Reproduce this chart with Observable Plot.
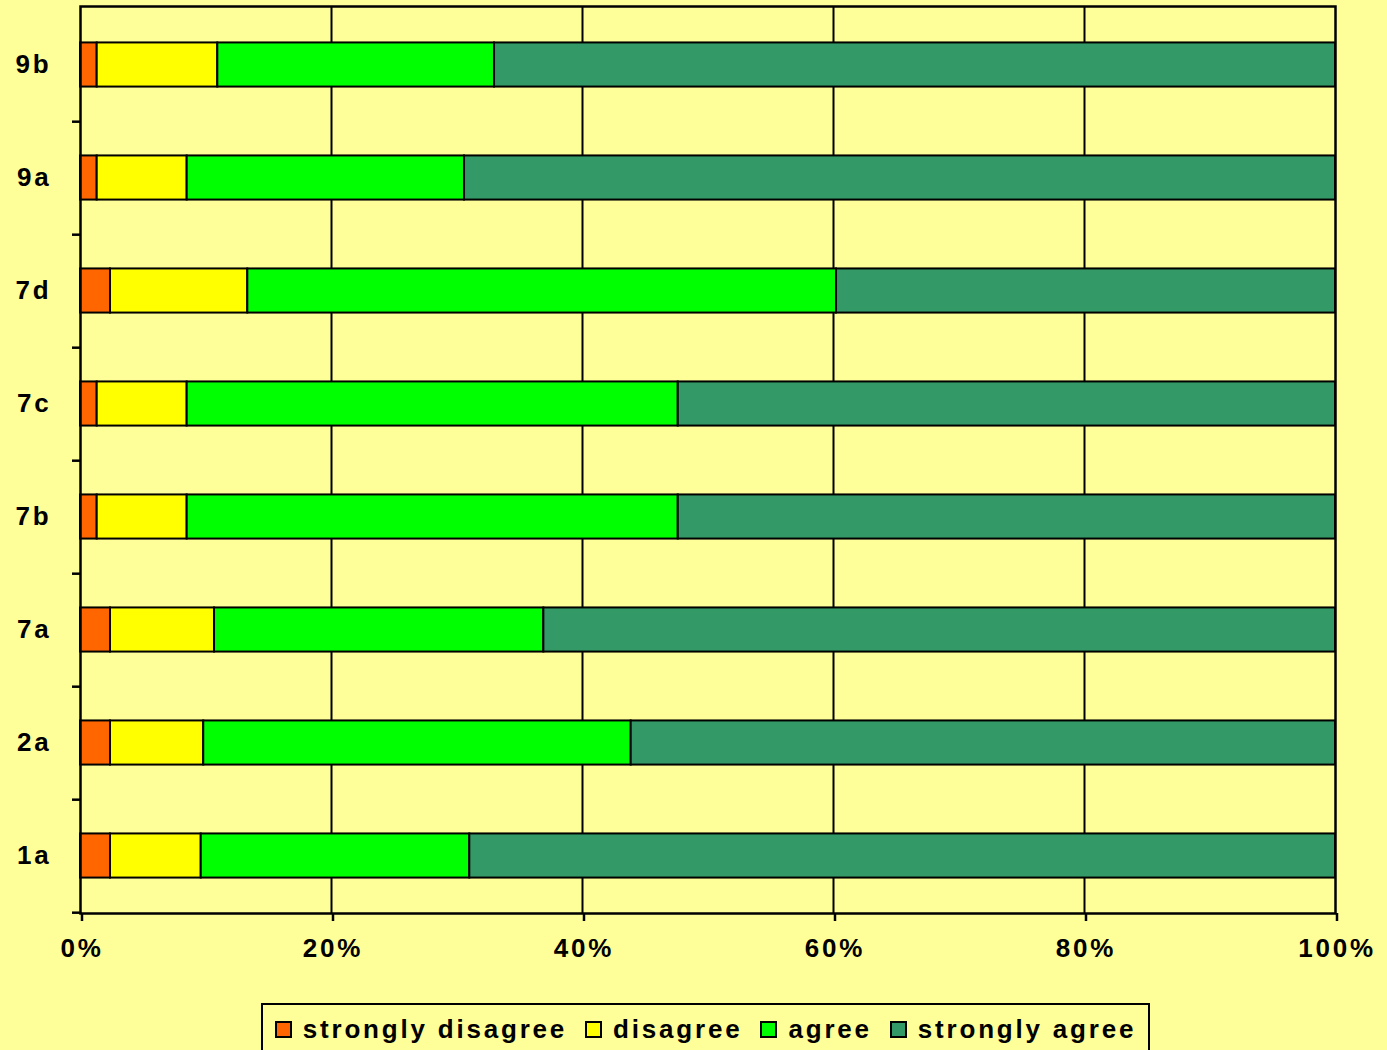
<!DOCTYPE html>
<html>
<head>
<meta charset="utf-8">
<script src="https://cdn.jsdelivr.net/npm/d3@7"></script>
<script src="https://cdn.jsdelivr.net/npm/@observablehq/plot@0.6"></script>
<style>
  html, body { margin: 0; padding: 0; background: #FFFF99; width: 1387px; height: 1050px; overflow: hidden; }
  #chart { position: absolute; left: 0; top: 0; }
  #legend {
    position: absolute; left: 261px; top: 1003px; width: 889px; height: 60px;
    border: 2px solid #000; box-sizing: border-box; background: #FFFF99;
    display: flex; justify-content: center; align-items: flex-start; padding-top: 9px;
    font-family: "Liberation Sans", Arial, sans-serif; font-weight: bold; font-size: 26px; letter-spacing: 2.8px; color: #000;
  }
  .item { display: flex; align-items: center; margin: 0 9px; white-space: nowrap; }
  .sw { width: 13px; height: 13px; border: 2px solid #000; margin-right: 11px; }
</style>
</head>
<body>
<div id="chart"></div>
<div id="legend"></div>
<script>
const categories = ["9b", "9a", "7d", "7c", "7b", "7a", "2a", "1a"];
const responses = ["strongly disagree", "disagree", "agree", "strongly agree"];
const colors = ["#FF6600", "#FFFF00", "#00FF00", "#339966"];
const stronglyDisagree = [1.33, 1.33, 2.39, 1.33, 1.33, 2.39, 2.39, 2.39];
const disagree        = [9.61, 7.17, 10.94, 7.17, 7.17, 8.29, 7.43, 7.23];
const agree           = [22.05, 22.10, 46.91, 39.13, 39.13, 26.24, 34.06, 21.40];
const stronglyAgree   = [67.01, 69.40, 39.76, 52.37, 52.37, 63.08, 56.12, 68.98];
const xTicks = [0, 20, 40, 60, 80, 100];

const seriesValues = [stronglyDisagree, disagree, agree, stronglyAgree];
const data = [];
categories.forEach((q, i) => {
  responses.forEach((r, j) => data.push({q, r, v: seriesValues[j][i]}));
});

const W = 1387, H = 990, mTop = 6, mBottom = 77, mLeft = 80, mRight = 52;
const step = (H - mTop - mBottom) / categories.length;
const inset = (step - 44.5) / 2;

const chart = Plot.plot({
  width: W, height: H,
  marginTop: mTop, marginBottom: mBottom, marginLeft: mLeft, marginRight: mRight,
  style: {background: "#FFFF99", fontFamily: "'Liberation Sans', Arial, sans-serif", fontWeight: "bold", fontSize: "26px", letterSpacing: "2.8px", color: "#000"},
  x: {domain: [0, 100], axis: null},
  y: {domain: categories, padding: 0, axis: null},
  color: {domain: responses, range: colors},
  marks: [
    Plot.gridX(xTicks.slice(1, -1), {stroke: "#000", strokeOpacity: 1, strokeWidth: 2}),
    Plot.barX(data, Plot.stackX({
      y: "q", x: "v", fill: "r", order: responses,
      insetTop: inset, insetBottom: inset,
      stroke: "#000", strokeWidth: 2
    })),
    Plot.frame({stroke: "#000", strokeWidth: 2.5}),
    Plot.axisX({ticks: xTicks, tickFormat: d => d + "%", tickSize: 8, tickPadding: 17, strokeWidth: 2.5, dx: 1.5, fill: "#000", label: null}),
    Plot.axisY({tickSize: 8, tickFormat: () => "", dy: step / 2, strokeWidth: 2.5, label: null}),
    Plot.axisY({tickSize: 0, tickPadding: 29, fill: "#000", label: null})
  ]
});
document.getElementById("chart").appendChild(chart);

const legend = document.getElementById("legend");
responses.forEach((r, j) => {
  const item = document.createElement("div");
  item.className = "item";
  const sw = document.createElement("div");
  sw.className = "sw";
  sw.style.background = colors[j];
  const t = document.createElement("span");
  t.textContent = r;
  item.appendChild(sw);
  item.appendChild(t);
  legend.appendChild(item);
});
</script>
</body>
</html>
